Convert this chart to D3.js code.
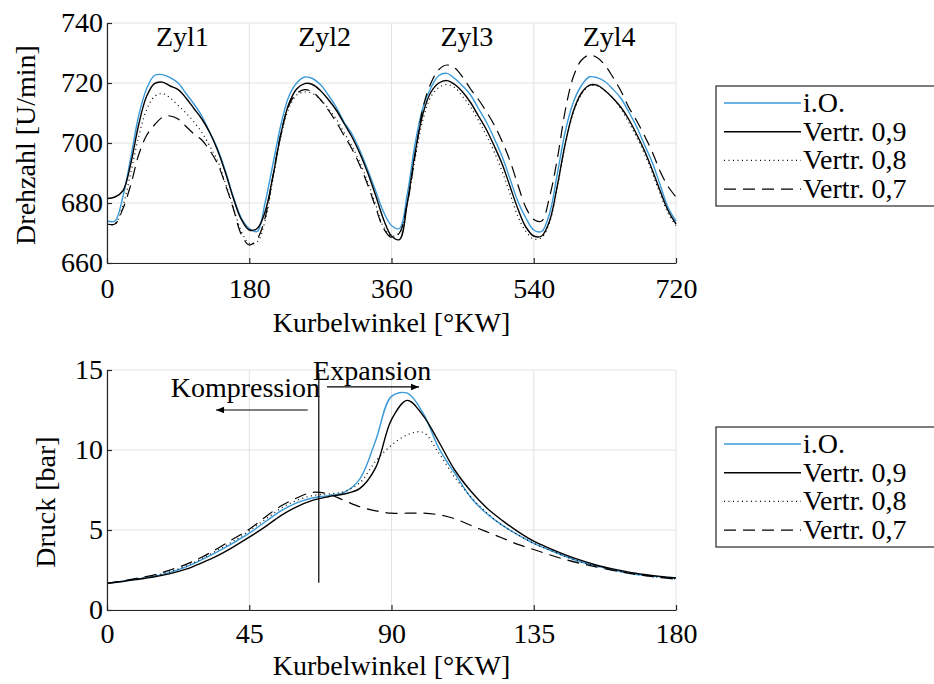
<!DOCTYPE html>
<html>
<head>
<meta charset="utf-8">
<script src="https://cdn.jsdelivr.net/npm/d3@7"></script>
<style>
  body { margin: 0; background: #fff; }
  text { font-family: "Liberation Serif", serif; fill: #000; }
</style>
</head>
<body>
<div id="chart"></div>
<script>
// ---------- data ----------
const seriesNames = ["i.O.", "Vertr. 0,9", "Vertr. 0,8", "Vertr. 0,7"];

// top chart: crank angle every 10 deg, 0..720
const angleTop = d3.range(0, 721, 10);
const speedIO = [674,674,682,695,709,718,722.5,722.8,721.8,720,716.5,713,709,703.5,698,690.5,682,675,671.5,670.5,
  680,693,706,715.5,720,722,721.5,719.5,716,712,707,703,697.5,691,684,677,672.5,671.5,
  683,700,712,718.5,722.5,723.2,721.5,719,716,711.5,707,701.5,695.5,688,680.5,675,671,670.5,
  676.5,690,704,713.5,719,722,721.8,720.5,718,715,710.5,705.5,699.5,693.5,686,678.5,674];
const speedV09 = [681.5,682,684,693,706,715.5,719.8,720.3,719,717.8,715,711.5,708,703.5,697.5,690,681.5,674.5,671,671.5,
  677,689,703,713,718,719.8,719.5,717.5,714.5,711,706.5,702,696.5,690,682.5,674.5,669,667.8,
  680,697,710,717,720,720.8,719.5,717,713.5,709,704.5,699,693,685.5,678,672,669,669,
  674,686,700,710.5,716.5,719.2,719.3,717.5,715,712,708,703,697.5,691,684,677.5,673];
const speedV08 = [672.5,673,679,690,702,711,715.5,716.5,715,712.5,710,707,703.5,699,694,686.5,678.5,670.5,666.5,667,
  674,688,702,711.5,716,717,716.5,714.5,711.5,708,703.5,699,693.5,687,679.5,672,669,670,
  680,695,708,715.5,718.5,719.5,718.5,715.5,712,707.5,702.5,697,690.5,683,675.5,670.5,668,668.5,
  673.5,685.5,699.5,710,716,719,719,717.5,715,711.5,707,702,696.5,690,683,676.5,672.5];
const speedV07 = [673,673,678,686,696,702.5,706,708.5,709,708,705.5,703,701,697.5,693,686,678,669.5,666,668,
  675,689,703,712.5,716.5,717.8,717,714.5,711,707,702.5,698,692.5,686,678.5,671.5,668.5,670,
  680,696,712,720,724.5,726,725,722,718,714.5,710.5,706,700.5,694,686,678.5,674.5,674,
  682,695,711,722,727.5,729.3,728.5,726,722,717.5,712,707.5,702.5,697,690.5,685.5,682];
const xTicksTop = [0, 180, 360, 540, 720];
const yTicksTop = [660, 680, 700, 720, 740];
const zylLabels = ["Zyl1", "Zyl2", "Zyl3", "Zyl4"];
const zylAngles = [62, 242, 422, 602];

// bottom chart: crank angle every 5 deg, 0..180
const angleBot = d3.range(0, 181, 5);
const pressIO = [1.67,1.8,1.95,2.12,2.35,2.7,3.15,3.65,4.2,4.8,5.5,6.2,6.7,7.0,7.15,7.35,8.2,10.6,13.35,13.55,
  12.3,10.1,8.55,7.05,6.05,5.3,4.7,4.17,3.75,3.35,3.0,2.75,2.5,2.3,2.17,2.07,1.98];
const pressV09 = [1.67,1.78,1.92,2.07,2.27,2.55,2.95,3.4,3.95,4.55,5.2,5.9,6.45,6.85,7.08,7.25,7.6,8.9,11.9,13.1,
  12.15,10.5,8.75,7.45,6.4,5.6,4.9,4.3,3.85,3.45,3.1,2.8,2.57,2.37,2.22,2.1,2.0];
const pressV08 = [1.67,1.8,1.97,2.15,2.4,2.75,3.2,3.75,4.3,4.95,5.65,6.35,6.85,7.15,7.25,7.4,7.95,9.3,10.3,10.95,
  11.1,9.8,8.3,7.1,6.1,5.3,4.7,4.17,3.75,3.35,3.0,2.75,2.5,2.3,2.17,2.05,1.95];
const pressV07 = [1.67,1.82,2.0,2.2,2.5,2.85,3.3,3.85,4.45,5.05,5.8,6.5,7.0,7.35,7.25,6.85,6.45,6.2,6.05,6.05,
  6.05,5.95,5.7,5.3,4.9,4.5,4.1,3.78,3.45,3.15,2.9,2.68,2.48,2.3,2.15,2.03,1.93];
const xTicksBot = [0, 45, 90, 135, 180];
const yTicksBot = [0, 5, 10, 15];
const markerAngle = 67;

// ---------- styles ----------
const blue = "#3a9ad9";
const styles = [
  { color: blue, dash: null, width: 1.4 },
  { color: "#000", dash: null, width: 1.4 },
  { color: "#000", dash: "1,3.5", width: 1.2 },
  { color: "#000", dash: "12,7", width: 1.2 },
];
const axisColor = "#262626";
const gridColor = "#e3e3e3";
const fontFamily = "Liberation Serif";
const fontSize = 28;

const width = 934, height = 684;
const svg = d3.select("#chart").append("svg")
  .attr("width", width).attr("height", height);

svg.append("defs").append("marker")
  .attr("id", "arrow")
  .attr("viewBox", "0 0 10 10")
  .attr("refX", 10).attr("refY", 5)
  .attr("markerWidth", 10).attr("markerHeight", 8)
  .attr("markerUnits", "userSpaceOnUse")
  .attr("orient", "auto")
  .append("path").attr("d", "M0,1 L10,5 L0,9 Z").attr("fill", "#000");

function panel(opts) {
  const x = d3.scaleLinear().domain(opts.xDomain).range([107, 676]);
  const y = d3.scaleLinear().domain(opts.yDomain).range([opts.bottom, opts.top]);
  const g = svg.append("g");

  // grid
  g.append("g").selectAll("line").data(opts.xTicks).join("line")
    .attr("x1", d => x(d)).attr("x2", d => x(d))
    .attr("y1", y.range()[0]).attr("y2", y.range()[1])
    .attr("stroke", gridColor).attr("stroke-width", 1);
  g.append("g").selectAll("line").data(opts.yTicks).join("line")
    .attr("x1", x.range()[0]).attr("x2", x.range()[1])
    .attr("y1", d => y(d)).attr("y2", d => y(d))
    .attr("stroke", gridColor).attr("stroke-width", 1);

  // curves
  const line = d3.line()
    .x((d, i) => x(opts.xs[i]))
    .y(d => y(d))
    .curve(d3.curveCatmullRom.alpha(0.5));
  opts.series.forEach((s, i) => {
    g.append("path")
      .datum(s)
      .attr("fill", "none")
      .attr("stroke", styles[i].color)
      .attr("stroke-width", styles[i].width)
      .attr("stroke-dasharray", styles[i].dash)
      .attr("d", line);
  });

  // axes
  const xAxis = g.append("g")
    .attr("transform", `translate(0,${opts.bottom})`)
    .call(d3.axisBottom(x).tickValues(opts.xTicks).tickSizeInner(-5).tickSizeOuter(0).tickPadding(opts.xPad));
  const yAxis = g.append("g")
    .attr("transform", `translate(107,0)`)
    .call(d3.axisLeft(y).tickValues(opts.yTicks).tickSizeInner(-5).tickSizeOuter(0).tickPadding(4));
  [xAxis, yAxis].forEach(a => {
    a.attr("font-family", fontFamily).attr("font-size", fontSize);
    a.select(".domain").attr("stroke", axisColor).attr("stroke-width", 1.2);
    a.selectAll(".tick line").attr("stroke", axisColor).attr("stroke-width", 1.2);
    a.selectAll(".tick text").attr("fill", "#000");
  });
  xAxis.selectAll(".tick text").attr("dy", "0.71em");

  // axis titles
  g.append("text")
    .attr("x", (x.range()[0] + x.range()[1]) / 2)
    .attr("y", opts.bottom + opts.xLabelDy)
    .attr("text-anchor", "middle")
    .style("font-size", fontSize + "px")
    .text("Kurbelwinkel [°KW]");
  g.append("text")
    .attr("transform", `translate(${opts.yLabelX},${opts.yLabelY}) rotate(-90)`)
    .attr("text-anchor", "middle")
    .style("font-size", fontSize + "px")
    .text(opts.yLabel);

  // legend
  const lg = svg.append("g").attr("transform", `translate(716,${opts.legendTop})`);
  lg.append("rect").attr("x", 0).attr("y", 0).attr("width", 240).attr("height", 120)
    .attr("fill", "#fff").attr("stroke", axisColor).attr("stroke-width", 1.2);
  seriesNames.forEach((n, i) => {
    const ry = 17 + i * 28.7;
    lg.append("line")
      .attr("x1", 8).attr("x2", 85).attr("y1", ry).attr("y2", ry)
      .attr("stroke", styles[i].color).attr("stroke-width", styles[i].width)
      .attr("stroke-dasharray", styles[i].dash);
    lg.append("text").attr("x", 87).attr("y", ry + 9)
      .style("font-size", fontSize + "px").text(n);
  });

  return { g, x, y };
}

// top panel
const speedPanel = panel({
  xDomain: [0, 720], yDomain: [660, 740], top: 23, bottom: 263,
  xTicks: xTicksTop, yTicks: yTicksTop, xPad: 15, xLabelDy: 69,
  xs: angleTop, series: [speedIO, speedV09, speedV08, speedV07],
  yLabel: "Drehzahl [U/min]", yLabelX: 35, yLabelY: 145, legendTop: 86,
});
speedPanel.g.append("g").selectAll("text").data(zylLabels).join("text")
  .attr("x", (d, i) => speedPanel.x(zylAngles[i]))
  .attr("y", speedPanel.y(732.5))
  .style("font-size", fontSize + "px")
  .text(d => d);

// bottom panel
const pressPanel = panel({
  xDomain: [0, 180], yDomain: [0, 15], top: 370, bottom: 610,
  xTicks: xTicksBot, yTicks: yTicksBot, xPad: 13, xLabelDy: 65,
  xs: angleBot, series: [pressIO, pressV09, pressV08, pressV07],
  yLabel: "Druck [bar]", yLabelX: 55, yLabelY: 502, legendTop: 427,
});

// annotations
const bx = pressPanel.x, by = pressPanel.y;
pressPanel.g.append("line")
  .attr("x1", bx(markerAngle)).attr("x2", bx(markerAngle))
  .attr("y1", by(1.7)).attr("y2", by(14.8))
  .attr("stroke", "#000").attr("stroke-width", 1.2);
pressPanel.g.append("line")
  .attr("x1", bx(63.5)).attr("x2", bx(34.5))
  .attr("y1", by(12.5)).attr("y2", by(12.5))
  .attr("stroke", "#000").attr("stroke-width", 1.2)
  .attr("marker-end", "url(#arrow)");
pressPanel.g.append("line")
  .attr("x1", bx(69.6)).attr("x2", bx(98.7))
  .attr("y1", by(13.94)).attr("y2", by(13.94))
  .attr("stroke", "#000").attr("stroke-width", 1.2)
  .attr("marker-end", "url(#arrow)");
pressPanel.g.append("text")
  .attr("x", bx(67.4)).attr("y", by(13.3))
  .attr("text-anchor", "end")
  .style("font-size", fontSize + "px")
  .text("Kompression");
pressPanel.g.append("text")
  .attr("x", bx(65.2)).attr("y", by(14.375))
  .style("font-size", fontSize + "px")
  .text("Expansion");
</script>
</body>
</html>
